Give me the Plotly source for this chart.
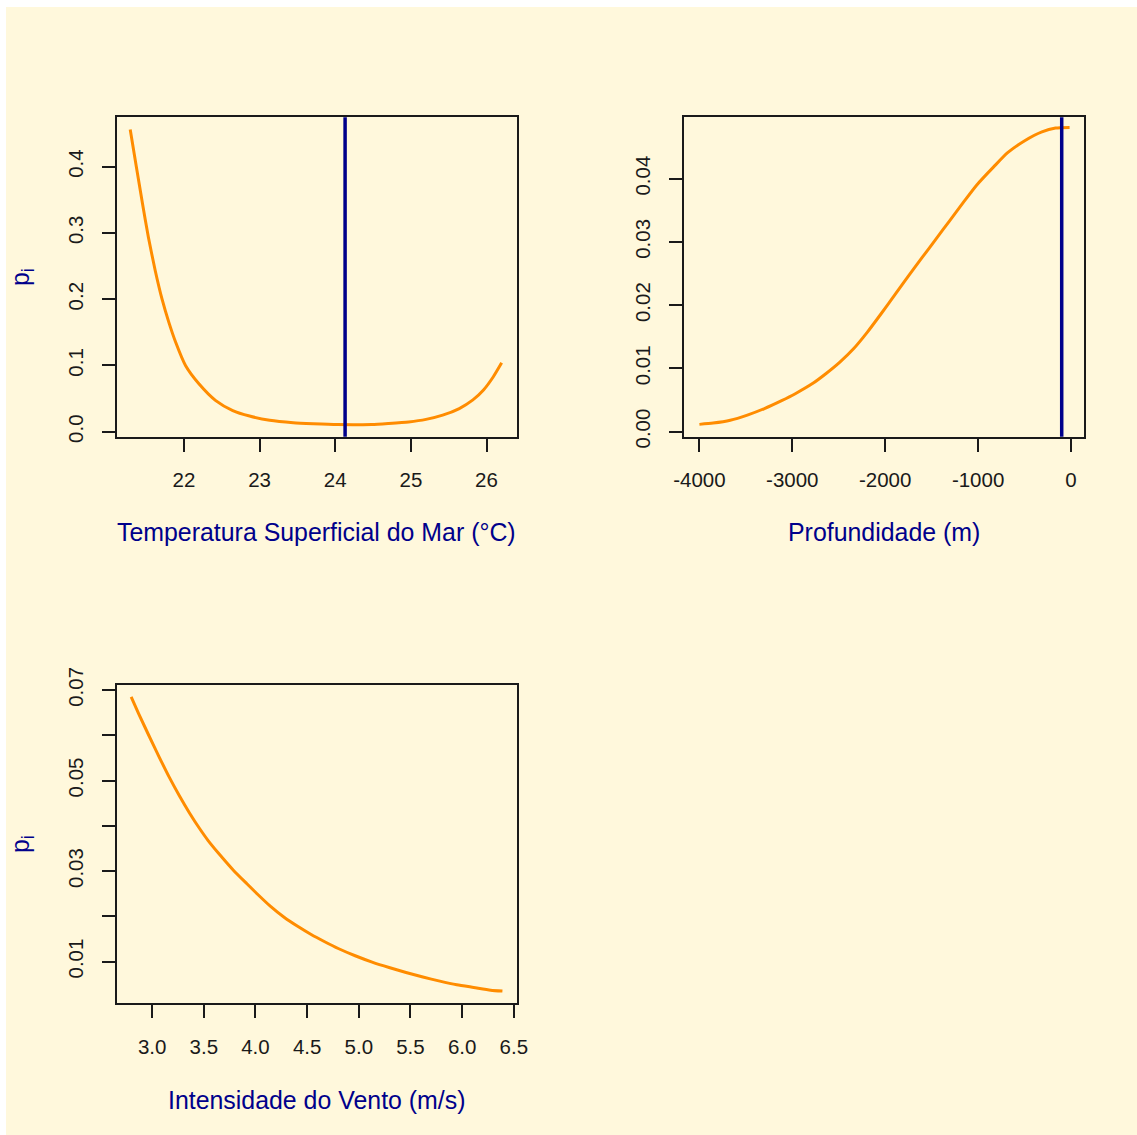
"""
Response curves (p_i) for three environmental variables, R-style base plot look.
"""

import plotly.graph_objects as go
from plotly.subplots import make_subplots

# --- Data ---
sst_x = [21.289, 21.37, 21.45, 21.53, 21.62, 21.71, 21.80, 21.89, 22.02, 22.2,
         22.42, 22.645, 22.867, 23.133, 23.445, 23.71, 24.03, 24.48, 24.70, 24.97,
         25.2, 25.42, 25.64, 25.82, 25.96, 26.09, 26.2]
sst_p = [0.456, 0.400, 0.345, 0.293, 0.243, 0.200, 0.165, 0.135, 0.100, 0.072,
         0.047, 0.032, 0.0237, 0.0172, 0.0136, 0.0121, 0.0108, 0.011, 0.0125, 0.0148,
         0.0186, 0.025, 0.035, 0.048, 0.063, 0.083, 0.104]
sst_mark = 24.13

depth_x = [-4000, -3853, -3668, -3484, -3300, -3115, -2968, -2783, -2636, -2488,
           -2341, -2194, -2046, -1899, -1751, -1604, -1456, -1309, -1161, -1014,
           -830, -682, -498, -313, -166, -15]
depth_p = [0.00115, 0.00135, 0.00180, 0.00262, 0.00365, 0.0049, 0.0060, 0.0076, 0.0092, 0.0110,
           0.0131, 0.0157, 0.0186, 0.0216, 0.0246, 0.0275, 0.0304, 0.0333, 0.0362, 0.0390,
           0.0419, 0.0441, 0.0460, 0.0474, 0.0480, 0.0481]
depth_mark = -100

wind_x = [2.797, 2.869, 2.967, 3.066, 3.164, 3.262, 3.36, 3.459, 3.54, 3.655,
          3.786, 3.917, 4.015, 4.146, 4.277, 4.408, 4.539, 4.670, 4.801, 4.965,
          5.129, 5.293, 5.457, 5.620, 5.784, 5.948, 6.112, 6.276, 6.39]
wind_p = [0.0685, 0.0648, 0.0600, 0.0553, 0.0508, 0.0467, 0.0429, 0.0394, 0.0368, 0.0336,
          0.0302, 0.0272, 0.0250, 0.0222, 0.0198, 0.0178, 0.0160, 0.0144, 0.0129, 0.0113,
          0.0099, 0.0087, 0.0076, 0.0066, 0.0057, 0.0049, 0.0043, 0.0037, 0.0035]

sst_xticks = [22, 23, 24, 25, 26]
sst_yticks = [0.0, 0.1, 0.2, 0.3, 0.4]
sst_ylabels = ["0.0", "0.1", "0.2", "0.3", "0.4"]
depth_xticks = [-4000, -3000, -2000, -1000, 0]
depth_xlabels = ["-4000", "-3000", "-2000", "-1000", "0"]
depth_yticks = [0.00, 0.01, 0.02, 0.03, 0.04]
depth_ylabels = ["0.00", "0.01", "0.02", "0.03", "0.04"]
wind_xticks = [3.0, 3.5, 4.0, 4.5, 5.0, 5.5, 6.0, 6.5]
wind_xlabels = ["3.0", "3.5", "4.0", "4.5", "5.0", "5.5", "6.0", "6.5"]
wind_yticks = [0.01, 0.03, 0.05, 0.07]
wind_ylabels = ["0.01", "0.03", "0.05", "0.07"]
wind_yticks_unlabelled = [0.02, 0.04, 0.06]   # R dropped these labels (overlap)

BG = "#FFF8DC"
CURVE = "#FF8C00"
MARK = "#00008B"
TITLE_COL = "#00008B"
INK = "#1a1a1a"
FONT = "Liberation Sans, Arial, sans-serif"
W, H = 1137, 1135

fig = make_subplots(rows=2, cols=2, specs=[[{}, {}], [{}, None]])

curve_line = dict(color=CURVE, width=3, shape="spline", smoothing=0.6)
fig.add_trace(go.Scatter(x=sst_x, y=sst_p, mode="lines", line=curve_line), row=1, col=1)
fig.add_trace(go.Scatter(x=depth_x, y=depth_p, mode="lines", line=curve_line), row=1, col=2)
fig.add_trace(go.Scatter(x=wind_x, y=wind_p, mode="lines", line=curve_line), row=2, col=1)

fig.add_vline(x=sst_mark, line=dict(color=MARK, width=3.5), row=1, col=1)
fig.add_vline(x=depth_mark, line=dict(color=MARK, width=3.5), row=1, col=2)

# pixel boxes of the three panels
left_col = [116.6 / W, 517 / W]
right_col = [684 / W, 1084 / W]
top_row = [1 - 436.7 / H, 1 - 117.3 / H]
bot_row = [1 - 1003.3 / H, 1 - 685 / H]

axis_style = dict(showline=True, mirror=True, linecolor=INK, linewidth=1.6,
                  ticks="outside", ticklen=13, tickwidth=1.6, tickcolor=INK,
                  showgrid=False, zeroline=False, automargin=False,
                  ticklabelstandoff=11,
                  tickfont=dict(family=FONT, size=20.5, color=INK))

fig.update_layout(
    xaxis=dict(domain=left_col, range=[21.109, 26.403], tickvals=sst_xticks, **axis_style),
    yaxis=dict(domain=top_row, range=[-0.0075, 0.4745], tickvals=sst_yticks,
               ticktext=sst_ylabels, tickangle=-90, **axis_style),
    xaxis2=dict(domain=right_col, range=[-4166, 140], tickvals=depth_xticks,
                ticktext=depth_xlabels, **axis_style),
    yaxis2=dict(domain=top_row, range=[-0.0008, 0.0497], tickvals=depth_yticks,
                ticktext=depth_ylabels, tickangle=-90, **axis_style),
    xaxis3=dict(domain=left_col, range=[2.656, 6.531], tickvals=wind_xticks,
                ticktext=wind_xlabels, **axis_style),
    yaxis3=dict(domain=bot_row, range=[0.0008, 0.0711], tickvals=wind_yticks,
                ticktext=wind_ylabels, tickangle=-90,
                minor=dict(tickvals=wind_yticks_unlabelled, ticks="outside", ticklen=13,
                           tickwidth=1.6, tickcolor=INK, showgrid=False),
                **axis_style),
)

# axis titles as annotations
title_font = dict(family=FONT, size=24.9, color=TITLE_COL)
titles = [
    ("Temperatura Superficial do Mar (°C)", 316.8, 532, 0),
    ("Profundidade (m)", 884, 532, 0),
    ("Intensidade do Vento (m/s)", 316.8, 1100, 0),
    ("p<sub>i</sub>", 22, 277, -90),
    ("p<sub>i</sub>", 22, 844, -90),
]
for txt, px, py, ang in titles:
    fig.add_annotation(text=txt, x=px / W, y=1 - py / H, xref="paper", yref="paper",
                       xanchor="center", yanchor="middle", showarrow=False,
                       textangle=ang, font=title_font)

# cream page with thin white strip on top and left
fig.add_shape(type="rect", xref="paper", yref="paper", x0=6 / W, x1=1, y0=0, y1=1 - 7 / H,
              fillcolor=BG, line=dict(width=0), layer="below")

fig.update_layout(
    width=W, height=H,
    margin=dict(l=0, r=0, t=0, b=0, autoexpand=False),
    paper_bgcolor="white",
    plot_bgcolor="rgba(0,0,0,0)",
    showlegend=False,
)

# drop the browser's default body margin so the figure sits at (0, 0)
fig.write_html("out.html", config={"displayModeBar": False},
               post_script="document.body.style.margin = '0px';")
